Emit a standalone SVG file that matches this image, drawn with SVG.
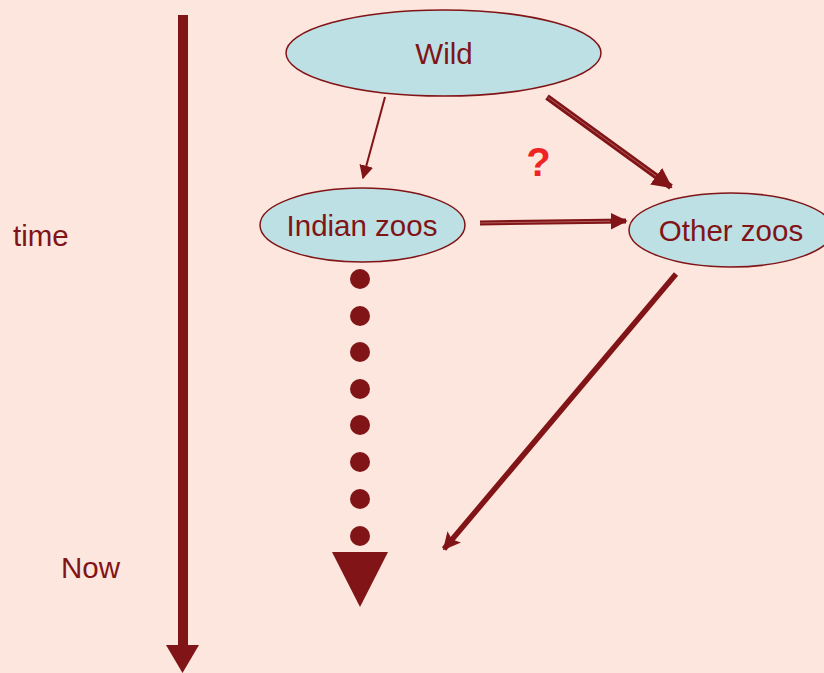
<svg xmlns="http://www.w3.org/2000/svg" width="824" height="673" viewBox="0 0 824 673">
<defs>
<style>
.node{fill:#BDE0E4;stroke:#801416;stroke-width:1.5}
.lbl{font-family:"Liberation Sans",Arial,sans-serif;font-size:29.5px;fill:#801416;text-anchor:middle}
.side{font-family:"Liberation Sans",Arial,sans-serif;font-size:29.5px;fill:#801416}
.ln{stroke:#801416;fill:none}
.inner{stroke:#C07070;stroke-width:0.8;fill:none}
.dot{fill:#801416}
</style>
<marker id="ah" viewBox="0 0 10 10" refX="9" refY="5" markerWidth="3.4" markerHeight="3.4" orient="auto" markerUnits="strokeWidth"><path d="M0,0 L10,5 L0,10 Z" fill="#801416"/></marker>
<marker id="ah3" viewBox="0 0 10 10" refX="9" refY="5" markerWidth="3.2" markerHeight="3.2" orient="auto" markerUnits="strokeWidth"><path d="M0,0 L10,5 L0,10 L2,5 Z" fill="#801416"/></marker>
<marker id="ahs" viewBox="0 0 10 10" refX="9" refY="5" markerWidth="7" markerHeight="7" orient="auto" markerUnits="strokeWidth"><path d="M0,0 L10,5 L0,10 Z" fill="#801416"/></marker>
</defs>
<rect width="824" height="673" fill="#FDE6DE"/>
<g id="connectors">
<line class="ln" x1="183" y1="15" x2="183" y2="648" stroke-width="10"/>
<path d="M166,645 L199,645 L182.5,673 Z" fill="#801416"/>
<line class="ln" x1="385" y1="97" x2="363" y2="178" stroke-width="2" marker-end="url(#ahs)"/>
<line class="ln" x1="547" y1="97" x2="671" y2="187" stroke-width="6" marker-end="url(#ah)"/>
<line class="inner" x1="548" y1="97.5" x2="656" y2="176"/>
<line class="ln" x1="480" y1="223" x2="626" y2="221" stroke-width="5" marker-end="url(#ah)"/>
<line class="inner" x1="480" y1="223" x2="610" y2="221.2"/>
<line class="ln" x1="676" y1="274" x2="444" y2="549" stroke-width="5.5" marker-end="url(#ah3)"/>
<g id="dots">
<circle class="dot" cx="360" cy="279" r="10"/>
<circle class="dot" cx="360" cy="316" r="10"/>
<circle class="dot" cx="360" cy="352" r="10"/>
<circle class="dot" cx="360" cy="389" r="10"/>
<circle class="dot" cx="360" cy="425" r="10"/>
<circle class="dot" cx="360" cy="462" r="10"/>
<circle class="dot" cx="360" cy="499" r="10"/>
<circle class="dot" cx="360" cy="536" r="10"/>
</g>
<path d="M332,552 L388,552 L360,607 Z" fill="#801416"/>
</g>
<g id="wild">
<ellipse class="node" cx="443.5" cy="53" rx="157.5" ry="43"/>
<text class="lbl" x="444" y="64">Wild</text>
</g>
<g id="indian">
<ellipse class="node" cx="362.5" cy="225" rx="102.5" ry="37"/>
<text class="lbl" x="362" y="236">Indian zoos</text>
</g>
<g id="other">
<ellipse class="node" cx="731" cy="230" rx="102" ry="37"/>
<text class="lbl" x="731" y="241">Other zoos</text>
</g>
<text x="538.5" y="176" font-family="Liberation Sans,Arial,sans-serif" font-size="40" font-weight="bold" fill="#EE2424" text-anchor="middle">?</text>
<text class="side" x="13" y="246">time</text>
<text class="side" x="61" y="578">Now</text>
</svg>
